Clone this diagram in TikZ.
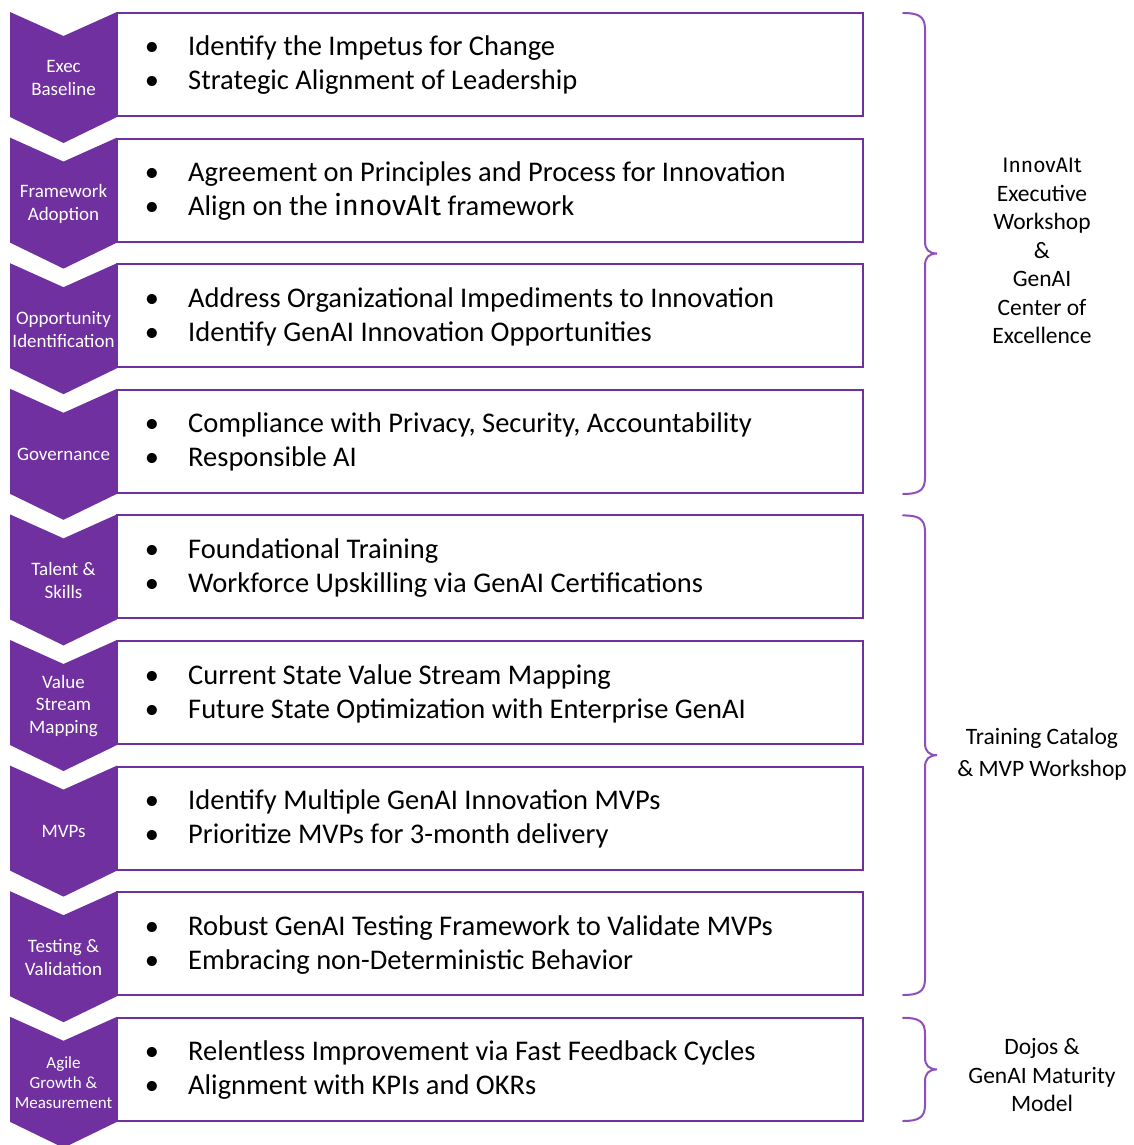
\documentclass[tikz,border=0pt]{standalone}
\usepackage{fontspec}
\setmainfont{Carlito}
\newfontfamily\brandfont{Fira Sans}
\definecolor{chev}{HTML}{7030A0}
\definecolor{bracecol}{HTML}{8E4FBD}
\tikzset{
  stagebox/.style={draw=chev, line width=2pt, fill=white},
  chevron/.style={fill=chev, draw=none},
  chevlbl/.style={text=white, align=center, inner sep=0pt},
  bulletdot/.style={anchor=base, inner sep=0pt, font=\fontsize{28.5}{32}\selectfont},
  itemtext/.style={anchor=base west, inner sep=0pt, font=\fontsize{28.5}{32}\selectfont},
  groupbrace/.style={draw=bracecol, line width=2pt, line cap=round},
  grouplbl/.style={align=center, inner sep=0pt, font=\fontsize{23.5}{28.5}\selectfont}
}
\begin{document}
\begin{tikzpicture}[x=1pt, y=-1pt]
\useasboundingbox (0,0) rectangle (1133,1145);

% stages: index / label / label size / label leading / first item / second item
\foreach \i/\lab/\fs/\ls/\ia/\ib in {
  0/{Exec\\Baseline}/19/23/{Identify the Impetus for Change}/{Strategic Alignment of Leadership},
  1/{Framework\\Adoption}/19/23/{Agreement on Principles and Process for Innovation}/{Align on the {\brandfont innovAIt} framework},
  2/{Opportunity\\Identification}/19/23/{Address Organizational Impediments to Innovation}/{Identify GenAI Innovation Opportunities},
  3/{Governance}/19/23/{Compliance with Privacy, Security, Accountability}/{Responsible AI},
  4/{Talent \&\\Skills}/19/23/{Foundational Training}/{Workforce Upskilling via GenAI Certifications},
  5/{Value\\Stream\\Mapping}/19/22.5/{Current State Value Stream Mapping}/{Future State Optimization with Enterprise GenAI},
  6/{MVPs}/19/23/{Identify Multiple GenAI Innovation MVPs}/{Prioritize MVPs for 3-month delivery},
  7/{Testing \&\\Validation}/19/23/{Robust GenAI Testing Framework to Validate MVPs}/{Embracing non-Deterministic Behavior},
  8/{Agile\\Growth \&\\Measurement}/17/20/{Relentless Improvement via Fast Feedback Cycles}/{Alignment with KPIs and OKRs}} {
  \pgfmathsetmacro{\t}{13+125.6*\i}
  % content box
  \path[stagebox] (117,\t) rectangle (863,\t+103);
  % chevron arrow on the left
  \path[chevron] (10,\t-1) -- (63.5,\t+23) -- (117,\t-1) -- (117,\t+104)
     -- (63.5,\t+130) -- (10,\t+104) -- cycle;
  \node[chevlbl, font=\fontsize{\fs}{\ls}\selectfont] (lab\i) at (63.5,\t+65) {\lab};
  % bullet items
  \node[bulletdot] (da\i) at (152,\t+43) {•};
  \node[itemtext] (ta\i) at (188,\t+43) {\ia};
  \node[bulletdot] (db\i) at (152,\t+77) {•};
  \node[itemtext] (tb\i) at (188,\t+77) {\ib};
}

% right-hand group braces
\foreach \top/\bot in {13/494, 515.4/995, 1017.8/1121} {
  \pgfmathsetmacro{\m}{(\top+\bot)/2}
  \draw[groupbrace] (903,\top) .. controls (918,\top) and (925,\top+3) .. (925,\top+16)
    -- (925,\m-12) .. controls (925,\m-4) and (929,\m) .. (937,\m)
    .. controls (929,\m) and (925,\m+4) .. (925,\m+12)
    -- (925,\bot-16) .. controls (925,\bot-3) and (918,\bot) .. (903,\bot);
}

\node[grouplbl] (g1) at (1042,251) {{\brandfont\fontsize{21}{28.5}\selectfont InnovAIt}\\Executive\\Workshop\\\&\\GenAI\\Center of\\Excellence};
\node[grouplbl, font=\fontsize{23.5}{32}\selectfont] (g2) at (1042,754) {Training Catalog\\\& MVP Workshop};
\node[grouplbl] (g3) at (1042,1075) {Dojos \&\\GenAI Maturity\\Model};
\end{tikzpicture}
\end{document}
